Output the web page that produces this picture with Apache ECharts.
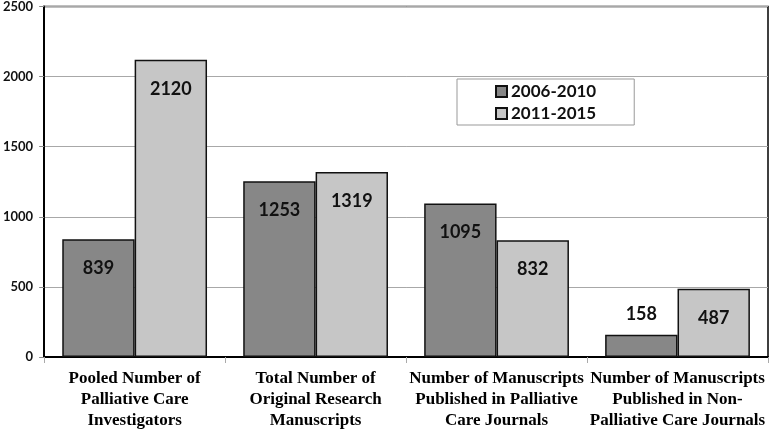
<!DOCTYPE html>
<html>
<head>
<meta charset="utf-8">
<script src="https://cdn.jsdelivr.net/npm/echarts@6/dist/echarts.min.js"></script>
<style>html,body{margin:0;padding:0;background:#fff;}#c{width:771px;height:431px;}</style>
</head>
<body>
<div id="c"></div>
<script>
const categories = [
  "Pooled Number of\nPalliative Care\nInvestigators",
  "Total Number of\nOriginal Research\nManuscripts",
  "Number of Manuscripts\nPublished in Palliative\nCare Journals",
  "Number of Manuscripts\nPublished in Non-\nPalliative Care Journals"
];
const seriesNames = ["2006-2010", "2011-2015"];
const values2006 = [839, 1253, 1095, 158];
const values2011 = [2120, 1319, 832, 487];
const yTicks = [0, 500, 1000, 1500, 2000, 2500];

const labelFont = "Lato, 'Open Sans', sans-serif";
function makeLabel(v) {
  const small = v < 300;
  return {
    show: true,
    position: small ? 'top' : 'insideTop',
    distance: small ? 12 : 20,
    fontFamily: labelFont,
    fontWeight: 'bold',
    fontSize: 18,
    color: '#111'
  };
}
function toData(arr) {
  return arr.map(v => ({ value: v, label: makeLabel(v) }));
}

const chart = echarts.init(document.getElementById('c'), null, { renderer: 'canvas' });
chart.setOption({
  animation: false,
  backgroundColor: '#fff',
  grid: { left: 42, right: 3, top: 6, bottom: 71, show: true, borderColor: '#000', borderWidth: 1.5, backgroundColor: 'transparent' },
  legend: {
    orient: 'vertical',
    left: 457, top: 79,
    padding: [4, 38, 3, 38],
    backgroundColor: '#fff',
    borderColor: '#999',
    borderWidth: 1,
    itemWidth: 11, itemHeight: 11,
    itemGap: 5,
    icon: 'rect',
    textStyle: { fontFamily: labelFont, fontWeight: 'bold', fontSize: 17, color: '#111', lineHeight: 17, padding: [0, 0, 0, -1] },
    data: seriesNames
  },
  xAxis: {
    type: 'category',
    data: categories,
    axisLine: { lineStyle: { color: '#000', width: 2 } },
    axisTick: { show: true, alignWithLabel: false, length: 6, lineStyle: { color: '#aaa' } },
    axisLabel: {
      interval: 0,
      margin: 11,
      fontFamily: "'Liberation Serif', 'Times New Roman', serif",
      fontWeight: 'bold',
      fontSize: 17,
      lineHeight: 21,
      color: '#000'
    }
  },
  yAxis: {
    type: 'value',
    min: 0, max: 2500, interval: 500,
    axisLine: { show: true, lineStyle: { color: '#000', width: 2 } },
    axisTick: { show: true, length: 5, lineStyle: { color: '#888' } },
    splitLine: { lineStyle: { color: '#a8a8a8', width: 1 } },
    axisLabel: {
      margin: 11,
      fontFamily: labelFont,
      fontWeight: 'bold',
      fontSize: 13,
      color: '#111',
      formatter: v => yTicks.includes(v) ? String(v) : ''
    }
  },
  series: [
    {
      name: seriesNames[0], type: 'bar',
      data: toData(values2006),
      barGap: '0%', barCategoryGap: '20%',
      itemStyle: { color: '#878787', borderColor: '#111', borderWidth: 1.5 }
    },
    {
      name: seriesNames[1], type: 'bar',
      data: toData(values2011),
      barGap: '0%', barCategoryGap: '20%',
      itemStyle: { color: '#c6c6c6', borderColor: '#111', borderWidth: 1.5 }
    }
  ]
});
</script>
</body>
</html>
